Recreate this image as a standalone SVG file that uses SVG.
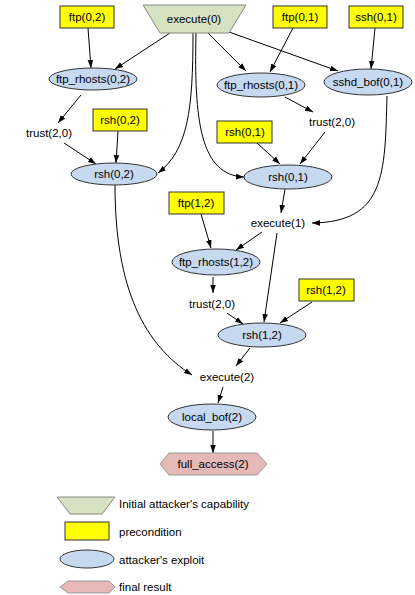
<svg xmlns="http://www.w3.org/2000/svg" width="415" height="595" viewBox="0 0 415 595">
<defs>
<marker id="arr" viewBox="0 0 10 10" refX="10" refY="5" markerWidth="8" markerHeight="8" markerUnits="userSpaceOnUse" orient="auto">
<path d="M0,1.5 L10,5 L0,8.5 Z" fill="#000"/>
</marker>
<style>
text{font-family:"Liberation Sans",Arial,sans-serif;font-size:11.5px;fill:#000;text-anchor:middle}
.lg{text-anchor:start}
.cap{fill:#d6e2c2;stroke:#888;stroke-width:1}
.pre{fill:#ffff00;stroke:#333;stroke-width:1}
.exp{fill:#c6d9f0;stroke:#333;stroke-width:1}
.fin{fill:#e6b8b7;stroke:#999;stroke-width:1}
.e{fill:none;stroke:#000;stroke-width:1;marker-end:url(#arr)}
</style>
</defs>
<rect width="415" height="595" fill="#fff"/>
<g id="edges">
<path class="e" d="M88,28 L91,68"/>
<path class="e" d="M170,33 L115,69"/>
<path class="e" d="M81,95 L58,123"/>
<path class="e" d="M64,143 L96,164"/>
<path class="e" d="M118,131 L116,163"/>
<path class="e" d="M193,33 C193,110 188,150 158,173"/>
<path class="e" d="M196,33 C194,120 200,175 244,177"/>
<path class="e" d="M208,33 L246,71"/>
<path class="e" d="M229,32 L338,71"/>
<path class="e" d="M293,28 L270,72"/>
<path class="e" d="M375,28 L371,69"/>
<path class="e" d="M285,97 L313,112"/>
<path class="e" d="M325,132 L300,164"/>
<path class="e" d="M257,143 L280,164"/>
<path class="e" d="M387,96 C385,175 385,222 312,223"/>
<path class="e" d="M285,189 L281,213"/>
<path class="e" d="M201,214 L211,248"/>
<path class="e" d="M262,232 L236,250"/>
<path class="e" d="M277,233 L264,322"/>
<path class="e" d="M213,277 L213,293"/>
<path class="e" d="M227,313 L243,324"/>
<path class="e" d="M312,302 L280,323"/>
<path class="e" d="M250,348 L236,366"/>
<path class="e" d="M115,185 C115,290 145,345 192,375"/>
<path class="e" d="M223,387 L218,403"/>
<path class="e" d="M213,431 L213,453"/>
</g>
<g id="execute0"><polygon class="cap" points="143,5 246,5 229,33 160,33"/><text x="194" y="23">execute(0)</text></g>
<g id="ftp02"><rect class="pre" x="60" y="6" width="54" height="22"/><text x="87" y="21">ftp(0,2)</text></g>
<g id="ftp01"><rect class="pre" x="273" y="6" width="54" height="22"/><text x="300" y="21">ftp(0,1)</text></g>
<g id="ssh01"><rect class="pre" x="349" y="6" width="54" height="22"/><text x="376" y="21">ssh(0,1)</text></g>
<g id="ftp_rhosts02"><ellipse class="exp" cx="93" cy="79" rx="44" ry="11"/><text x="93" y="83">ftp_rhosts(0,2)</text></g>
<g id="ftp_rhosts01"><ellipse class="exp" cx="261" cy="85" rx="44" ry="12"/><text x="261" y="89">ftp_rhosts(0,1)</text></g>
<g id="sshd_bof01"><ellipse class="exp" cx="368" cy="82" rx="44" ry="13"/><text x="368" y="86">sshd_bof(0,1)</text></g>
<g id="trust20a"><text x="49" y="137">trust(2,0)</text></g>
<g id="trust20b"><text x="332" y="126">trust(2,0)</text></g>
<g id="rsh02p"><rect class="pre" x="93" y="109" width="54" height="22"/><text x="120" y="124">rsh(0,2)</text></g>
<g id="rsh01p"><rect class="pre" x="217" y="121" width="55" height="22"/><text x="245" y="136">rsh(0,1)</text></g>
<g id="rsh02"><ellipse class="exp" cx="114" cy="174" rx="43" ry="11"/><text x="114" y="178">rsh(0,2)</text></g>
<g id="rsh01"><ellipse class="exp" cx="288" cy="177" rx="44" ry="12"/><text x="288" y="181">rsh(0,1)</text></g>
<g id="ftp12"><rect class="pre" x="169" y="192" width="55" height="22"/><text x="196" y="207">ftp(1,2)</text></g>
<g id="execute1"><text x="278" y="227">execute(1)</text></g>
<g id="ftp_rhosts12"><ellipse class="exp" cx="216" cy="262" rx="44" ry="13"/><text x="216" y="266">ftp_rhosts(1,2)</text></g>
<g id="rsh12p"><rect class="pre" x="299" y="279" width="55" height="22"/><text x="326" y="294">rsh(1,2)</text></g>
<g id="trust20c"><text x="212" y="308">trust(2,0)</text></g>
<g id="rsh12"><ellipse class="exp" cx="262" cy="335" rx="44" ry="12"/><text x="262" y="339">rsh(1,2)</text></g>
<g id="execute2"><text x="227" y="381">execute(2)</text></g>
<g id="local_bof2"><ellipse class="exp" cx="212" cy="417" rx="44" ry="13"/><text x="212" y="421">local_bof(2)</text></g>
<g id="full_access2"><polygon class="fin" points="160,464 169,453 257,453 267,464 257,475 169,475"/><text x="213" y="468">full_access(2)</text></g>
<g id="legend">
<polygon class="cap" points="57,497 115,497 102,514 70,514"/>
<text class="lg" x="119" y="508">Initial attacker's capability</text>
<rect class="pre" x="65" y="522" width="44" height="18"/>
<text class="lg" x="119" y="536">precondition</text>
<ellipse class="exp" cx="87" cy="559" rx="27" ry="9"/>
<text class="lg" x="119" y="564">attacker's exploit</text>
<polygon class="fin" points="60,587 68,581 109,581 115,587 109,593 68,593"/>
<text class="lg" x="119" y="591">final result</text>
</g>
</svg>
